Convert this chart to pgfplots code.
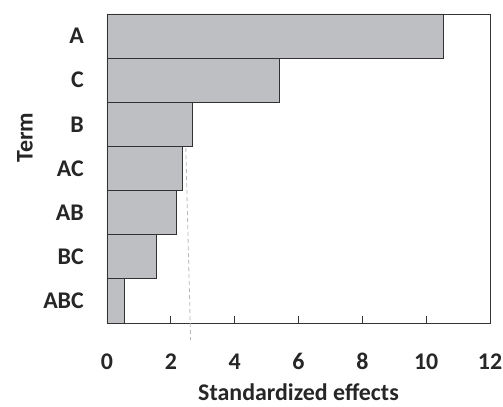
\documentclass[border=0pt]{standalone}
\usepackage{fontspec}
\setmainfont{Carlito}
\usepackage{pgfplots}
\pgfplotsset{compat=1.18}
\definecolor{barfill}{RGB}{190,191,195}
\definecolor{baredge}{RGB}{50,50,50}
\definecolor{refline}{RGB}{185,185,185}
\begin{document}
\begin{tikzpicture}
\begin{axis}[
  scale only axis,
  width=383bp, height=309bp,
  xmin=0, xmax=12, ymin=-0.5, ymax=6.5,
  xtick={0,2,4,6,8,10,12},
  ytick={0,1,2,3,4,5,6},
  yticklabels={ABC,BC,AB,AC,B,C,A},
  /pgf/number format/assume math mode=true,
  tick label style={font=\fontsize{24}{28}\selectfont\bfseries, text=black!85},
  xticklabel style={anchor=base, inner sep=0pt, yshift=-47bp},
  yticklabel style={anchor=east, inner sep=0pt, xshift=-23bp},
  xtick pos=bottom, ytick style={draw=none},
  xtick align=inside,
  major tick length=7bp,
  tick style={black!80, line width=0.8bp},
  axis line style={black!80, line width=0.8bp},
  xlabel={Standardized effects},
  ylabel={Term},
  label style={font=\fontsize{24}{28}\selectfont\bfseries, text=black!85, inner sep=0pt},
  xlabel style={at={(axis description cs:0.5,0)}, anchor=base, yshift=-78bp},
  ylabel style={at={(axis description cs:-0.214,0.6)}, anchor=center},
  clip=false,
]
\addplot[xbar, bar width=1, fill=barfill, draw=baredge, line width=0.8bp]
  coordinates {(0.54,0) (1.55,1) (2.17,2) (2.36,3) (2.67,4) (5.39,5) (10.54,6)};
\addplot[refline, line width=0.8bp, dash pattern=on 4bp off 3bp]
  coordinates {(2.47,3.46) (2.62,-0.89)};
\path (rel axis cs:0,0) ++(-107bp,-84bp);
\path (rel axis cs:1,1) ++(13bp,14bp);
\end{axis}
\end{tikzpicture}
\end{document}
